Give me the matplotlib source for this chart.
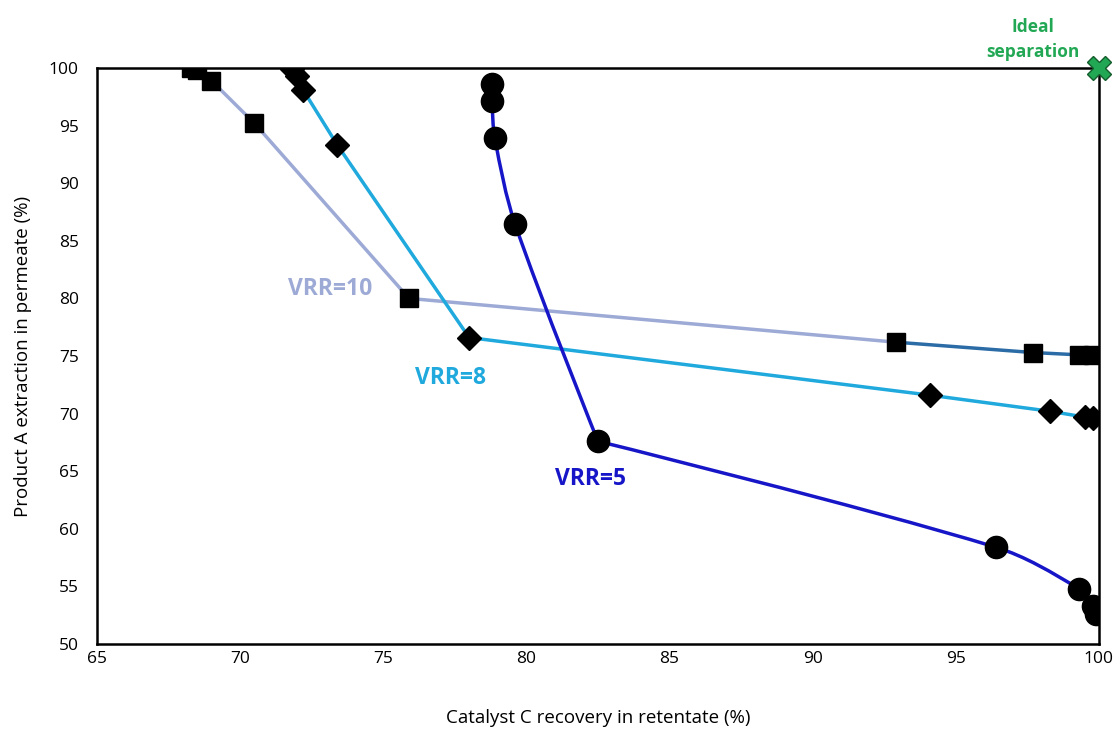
import numpy as np
import matplotlib.pyplot as plt
from matplotlib.path import Path
from matplotlib.patches import PathPatch

plt.rcParams['font.family'] = ['Open Sans', 'DejaVu Sans']

# VRR=10 (squares)
vrr10_x = [68.3, 68.5, 69.0, 70.5, 75.9, 92.9, 97.7, 99.3, 99.8]
vrr10_y = [100.0, 99.8, 98.9, 95.2, 80.0, 76.2, 75.3, 75.1, 75.1]

# VRR=8 (diamonds)
vrr8_x = [71.8, 72.0, 72.2, 73.4, 78.0, 94.1, 98.3, 99.5, 99.8]
vrr8_y = [99.9, 99.3, 98.1, 93.3, 76.6, 71.6, 70.2, 69.7, 69.6]

# VRR=5 (circles)
vrr5_x = [78.8, 78.8, 78.9, 79.6, 82.5, 96.4, 99.3, 99.8, 99.9]
vrr5_y = [98.6, 97.1, 93.9, 86.5, 67.6, 58.4, 54.8, 53.3, 52.6]

c10 = '#9daad6'
c10_dark = '#2c6ca6'
c8 = '#1fa9dd'
c5 = '#1616c8'
green = '#22a854'


def smooth_path(ax, x, y):
    # smooth curve through the points (Bezier handles in display space);
    # sharp turns are kept as corners
    pts = ax.transData.transform(np.column_stack([x, y]))
    n = len(pts)
    tang = []
    for i in range(n):
        d = pts[min(i + 1, n - 1)] - pts[max(i - 1, 0)]
        nrm = np.hypot(*d)
        t = d / nrm if nrm > 0 else d
        if 0 < i < n - 1:
            a = pts[i] - pts[i - 1]
            b = pts[i + 1] - pts[i]
            cosang = np.dot(a, b) / (np.hypot(*a) * np.hypot(*b) + 1e-9)
            if cosang < np.cos(np.radians(45)):
                t = np.zeros(2)
        tang.append(t)
    verts = [pts[0]]
    codes = [Path.MOVETO]
    for i in range(n - 1):
        L = np.hypot(*(pts[i + 1] - pts[i])) / 3.0
        verts += [pts[i] + tang[i] * L, pts[i + 1] - tang[i + 1] * L, pts[i + 1]]
        codes += [Path.CURVE4] * 3
    verts = ax.transData.inverted().transform(np.array(verts))
    return Path(verts, codes)


fig = plt.figure(figsize=(11.17, 7.31), dpi=100)
ax = fig.add_axes([0.0868, 0.119, 0.897, 0.788])
ax.set_xlim(65, 100)
ax.set_ylim(50, 100)

# lines
ax.plot(vrr10_x[:6], vrr10_y[:6], color=c10, lw=2.5, zorder=2)
ax.plot(vrr10_x[5:], vrr10_y[5:], color=c10_dark, lw=2.5, zorder=2)
ax.plot(vrr8_x, vrr8_y, color=c8, lw=2.5, zorder=2)
ax.add_patch(PathPatch(smooth_path(ax, vrr5_x, vrr5_y), fill=False,
                       edgecolor=c5, lw=2.5, zorder=2))

# markers
ax.plot(vrr10_x, vrr10_y, 's', color='black', ms=13, ls='none', zorder=3)
ax.plot(vrr8_x, vrr8_y, 'D', color='black', ms=12, ls='none', zorder=3)
ax.plot(vrr5_x, vrr5_y, 'o', color='black', ms=16, ls='none', zorder=3)

# ideal separation
ax.plot([100], [100], 'X', color=green, mec='#145c2c', mew=1, ms=17,
        clip_on=False, zorder=5)
ax.text(97.7, 100.6, 'Ideal\nseparation', color=green, fontsize=12.5,
        fontweight='bold', ha='center', va='bottom', linespacing=1.5)

# series labels
ax.text(73.15, 80.8, 'VRR=10', color=c10, fontsize=16.5, fontweight='bold',
        ha='center', va='center')
ax.text(77.35, 73.1, 'VRR=8', color=c8, fontsize=16.5, fontweight='bold',
        ha='center', va='center')
ax.text(82.25, 64.3, 'VRR=5', color=c5, fontsize=16.5, fontweight='bold',
        ha='center', va='center')

ax.set_xticks(np.arange(65, 101, 5))
ax.set_yticks(np.arange(50, 101, 5))
ax.tick_params(length=0, labelsize=12.5)
ax.tick_params(axis='x', pad=5)
ax.tick_params(axis='y', pad=13)
for s in ax.spines.values():
    s.set_linewidth(1.8)
ax.set_xlabel('Catalyst C recovery in retentate (%)', fontsize=13.5, labelpad=30)
ax.set_ylabel('Product A extraction in permeate (%)', fontsize=13.5, labelpad=12)

fig.savefig('out.png', dpi=100)
